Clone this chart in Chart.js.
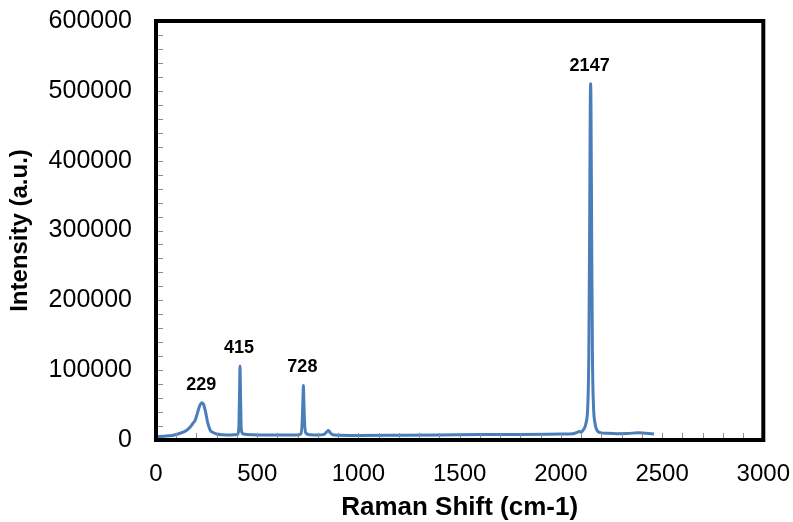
<!DOCTYPE html>
<html>
<head>
<meta charset="utf-8">
<script src="https://cdn.jsdelivr.net/npm/chart.js@4.4.1/dist/chart.umd.min.js"></script>
<style>
  html, body { margin: 0; padding: 0; background: #fff; }
  #wrap { width: 793px; height: 522px; }
</style>
</head>
<body>
<div id="wrap"><canvas id="ramanChart" width="793" height="522"></canvas></div>
<script>
// espectro Raman
var ramanShift = [0, 40, 80, 123, 150, 170, 185, 192, 200, 210, 219, 227, 235, 245, 256, 268, 280, 300, 330, 370,
    400, 406, 410, 413, 415, 417, 420, 424, 432, 480, 550, 650, 700, 716, 722, 726, 728, 730, 734, 740,
    760, 800, 830, 843, 852, 862, 880, 1000, 1200, 1400, 1600, 1800, 2000, 2060, 2080, 2090, 2100, 2112,
    2124, 2133, 2138, 2142, 2145, 2147, 2149, 2152, 2156, 2161, 2168, 2178, 2195, 2230, 2280, 2330, 2380, 2420, 2460];
var intensity = [5000, 5500, 6500, 10000, 13500, 19000, 25000, 27500, 34000, 44000, 51000, 53500, 51000, 40000, 24000, 14000, 11000, 8500, 7500, 7200,
    7800, 10000, 25000, 75000, 106000, 75000, 25000, 11000, 8500, 7500, 7000, 7000, 7200, 9000, 25000, 60000, 78000, 60000, 25000, 10000,
    7500, 7000, 8000, 11500, 13500, 10000, 7200, 6500, 6800, 7200, 7800, 8000, 8500, 9000, 11000, 12000, 11500, 15000,
    24000, 50000, 120000, 300000, 470000, 510000, 470000, 300000, 120000, 50000, 25000, 14000, 10500, 9500, 9000, 9200, 10500, 9500, 8500];

var peakLabels = [229, 415, 728, 2147];
var xTicks = [0, 500, 1000, 1500, 2000, 2500, 3000];
var yTicks = [0, 100000, 200000, 300000, 400000, 500000, 600000];

var fuente = '"Liberation Sans", Arial, sans-serif';

var puntos = [];
for (var i = 0; i < ramanShift.length; i++) {
    puntos.push({ x: ramanShift[i], y: intensity[i] });
}

// marco negro, marcas menores y etiquetas de picos
var marcoPlugin = {
    id: 'marco',
    afterDatasetsDraw: function(chart) {
        var ctx = chart.ctx;
        var a = chart.chartArea;
        var sx = chart.scales.x;
        var sy = chart.scales.y;
        ctx.save();
        ctx.strokeStyle = '#8c8c8c';
        ctx.lineWidth = 1;
        for (var v = 0; v <= 600000; v += 20000) {
            var py = Math.round(sy.getPixelForValue(v)) + 0.5;
            ctx.beginPath();
            ctx.moveTo(a.left, py);
            ctx.lineTo(a.left + 7, py);
            ctx.stroke();
        }
        for (var u = 0; u <= 3000; u += 100) {
            var px = Math.round(sx.getPixelForValue(u)) + 0.5;
            ctx.beginPath();
            ctx.moveTo(px, a.bottom);
            ctx.lineTo(px, a.bottom - 7);
            ctx.stroke();
        }
        ctx.strokeStyle = '#000';
        ctx.lineWidth = 4;
        ctx.strokeRect(a.left, a.top, a.right - a.left, a.bottom - a.top);

        ctx.fillStyle = '#000';
        ctx.font = 'bold 18px ' + fuente;
        ctx.textAlign = 'center';
        ctx.textBaseline = 'middle';
        peakLabels.forEach(function(p) {
            var maxY = 0;
            for (var k = 0; k < ramanShift.length; k++) {
                if (Math.abs(ramanShift[k] - p) <= 10 && intensity[k] > maxY) maxY = intensity[k];
            }
            ctx.fillText(String(p), sx.getPixelForValue(p) - 1, sy.getPixelForValue(maxY) - 18);
        });
        ctx.restore();
    }
};

var ctx = document.getElementById('ramanChart').getContext('2d');
var myChart = new Chart(ctx, {
    type: 'line',
    data: {
        datasets: [{
            label: 'Raman',
            data: puntos,
            borderColor: '#4A7EBB',
            borderWidth: 3,
            pointRadius: 0,
            fill: false,
            cubicInterpolationMode: 'monotone'
        }]
    },
    options: {
        responsive: false,
        animation: false,
        layout: { padding: { left: 0, top: 21, right: 29, bottom: 0 } },
        plugins: {
            legend: { display: false },
            tooltip: { enabled: false }
        },
        scales: {
            x: {
                type: 'linear',
                min: 0,
                max: 3000,
                afterBuildTicks: function(scale) {
                    scale.ticks = xTicks.map(function(v) { return { value: v }; });
                },
                afterFit: function(scale) { scale.height = 82; },
                grid: { display: false, drawTicks: true, tickLength: 17 },
                border: { display: false },
                ticks: {
                    padding: 3,
                    color: '#000',
                    font: { family: fuente, size: 24 },
                    callback: function(v) { return String(v); }
                },
                title: {
                    display: true,
                    text: 'Raman Shift (cm-1)',
                    color: '#000',
                    font: { family: fuente, size: 26, weight: 'bold', lineHeight: 1 },
                    padding: { top: 0, bottom: 1 }
                }
            },
            y: {
                min: 0,
                max: 600000,
                afterBuildTicks: function(scale) {
                    scale.ticks = yTicks.map(function(v) { return { value: v }; });
                },
                afterFit: function(scale) { scale.width = 156; },
                grid: { display: false, drawTicks: true, tickLength: 21 },
                border: { display: false },
                ticks: {
                    padding: 3,
                    color: '#000',
                    font: { family: fuente, size: 25 },
                    callback: function(v) { return String(v); }
                },
                title: {
                    display: true,
                    text: 'Intensity (a.u.)',
                    color: '#000',
                    font: { family: fuente, size: 24, weight: 'bold', lineHeight: 1 },
                    padding: { top: 8, bottom: 0 }
                }
            }
        }
    },
    plugins: [marcoPlugin]
});
</script>
</body>
</html>
